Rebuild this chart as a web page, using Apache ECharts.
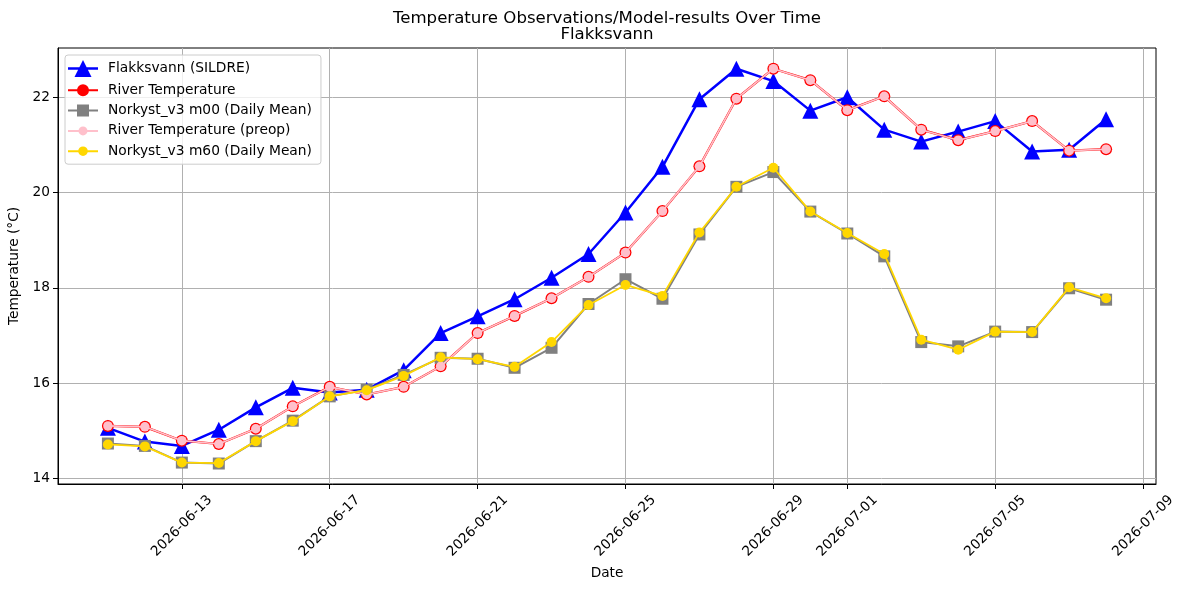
<!DOCTYPE html>
<html>
<head>
<meta charset="utf-8">
<script src="https://cdn.jsdelivr.net/npm/echarts@6/dist/echarts.min.js"></script>
<style>
html,body{margin:0;padding:0;background:#fff;}
#chart{width:1187px;height:590px;}
</style>
</head>
<body>
<div id="chart"></div>
<script>
const dates = ['2026-06-11','2026-06-12','2026-06-13','2026-06-14','2026-06-15','2026-06-16','2026-06-17',
  '2026-06-18','2026-06-19','2026-06-20','2026-06-21','2026-06-22','2026-06-23','2026-06-24',
  '2026-06-25','2026-06-26','2026-06-27','2026-06-28','2026-06-29','2026-06-30','2026-07-01',
  '2026-07-02','2026-07-03','2026-07-04','2026-07-05','2026-07-06','2026-07-07','2026-07-08'];

const sildre = [15.06,14.77,14.68,15.02,15.49,15.9,15.8,15.86,16.27,17.05,17.4,17.76,18.21,18.71,
  19.58,20.54,21.96,22.6,22.34,21.72,22.0,21.32,21.07,21.28,21.5,20.86,20.9,21.54];

const riverTemp = [15.1,15.08,14.79,14.72,15.04,15.51,15.92,15.76,15.92,16.35,17.05,17.41,17.78,18.23,
  18.74,19.61,20.55,21.97,22.6,22.36,21.73,22.02,21.32,21.1,21.29,21.5,20.88,20.91];

const riverPreop = [15.1,15.08,14.79,14.72,15.04,15.51,15.92,15.76,15.92,16.35,17.05,17.41,17.78,18.23,
  18.74,19.61,20.55,21.97,22.6,22.36,21.73,22.02,21.32,21.1,21.29,21.5,20.88,20.91];

const m00 = [14.73,14.68,14.33,14.31,14.78,15.21,15.72,15.86,16.17,16.53,16.51,16.32,16.74,17.66,
  18.18,17.77,19.12,20.12,20.43,19.6,19.14,18.66,16.86,16.77,17.08,17.07,17.99,17.75];

const m60 = [14.71,14.67,14.33,14.32,14.78,15.2,15.72,15.85,16.15,16.54,16.5,16.34,16.86,17.64,
  18.06,17.83,19.16,20.12,20.52,19.6,19.15,18.71,16.91,16.7,17.08,17.07,18.01,17.78];

const xTickDates = ['2026-06-13','2026-06-17','2026-06-21','2026-06-25','2026-06-29','2026-07-01','2026-07-05','2026-07-09'];
const yTicks = [14,16,18,20,22];

const DAY = 86400000;
function utc(s){ const p = s.split('-').map(Number); return Date.UTC(p[0], p[1]-1, p[2]); }
const BASE = utc(dates[0]);
function dayNum(s){ return Math.round((utc(s) - BASE)/DAY); }
function pad(n){ return (n<10?'0':'') + n; }
function fmt(dn){ const d = new Date(BASE + Math.round(dn)*DAY); return d.getUTCFullYear()+'-'+pad(d.getUTCMonth()+1)+'-'+pad(d.getUTCDate()); }
function pairs(vals){ return dates.map((d,i)=>[dayNum(d), vals[i]]); }
const xTickVals = xTickDates.map(dayNum);

// legend icons: line + marker, drawn in a 30x17 box
const ICON_TRI  = 'path://M0,7.25h30v2.5h-30z M15,0L23.5,17L6.5,17z';
const ICON_RED  = 'path://M0,7.5h30v2h-30z M9,8.5a6,6 0 1,1 12,0a6,6 0 1,1 -12,0z';
const ICON_SQ   = 'path://M0,7.5h30v2h-30z M9,2.5h12v12h-12z';
const ICON_PINK = 'path://M0,7.5h30v2h-30z M10.5,8.5a4.5,4.5 0 1,1 9,0a4.5,4.5 0 1,1 -9,0z';
const ICON_GOLD = 'path://M0,7.5h30v2h-30z M10.2,8.5a4.8,4.8 0 1,1 9.6,0a4.8,4.8 0 1,1 -9.6,0z';

const FONT = 'DejaVu Sans';
const chart = echarts.init(document.getElementById('chart'), null, {renderer:'canvas'});

const option = {
  animation: false,
  backgroundColor: '#fff',
  textStyle: {fontFamily: FONT, color:'#000'},
  title: {
    text: 'Temperature Observations/Model-results Over Time\nFlakksvann',
    left: 602, top: 5, textAlign: 'center',
    textStyle: {fontFamily: FONT, fontSize: 16.6, fontWeight: 'normal', color:'#000', lineHeight: 16.5}
  },
  grid: {
    left: 58, top: 48, width: 1098, height: 436,
    show: true, borderColor: '#000', borderWidth: 1, backgroundColor: 'transparent',
    containLabel: false, outerBoundsMode: 'none'
  },
  legend: {
    orient: 'vertical', left: 65, top: 55,
    padding: [5, 9, 6, 3], itemGap: 6.3, itemWidth: 30, itemHeight: 17,
    backgroundColor: 'rgba(255,255,255,0.8)', borderColor: '#cccccc', borderWidth: 1, borderRadius: 3,
    textStyle: {fontFamily: FONT, fontSize: 13.8, color: '#000', padding: [0,0,0,5]},
    data: [
      {name: 'Flakksvann (SILDRE)', icon: ICON_TRI},
      {name: 'River Temperature', icon: ICON_RED},
      {name: 'Norkyst_v3 m00 (Daily Mean)', icon: ICON_SQ},
      {name: 'River Temperature (preop)', icon: ICON_PINK},
      {name: 'Norkyst_v3 m60 (Daily Mean)', icon: ICON_GOLD}
    ]
  },
  xAxis: {
    type: 'value',
    min: -1.35,
    max: (dates.length - 1) + 1.35,
    name: 'Date', nameLocation: 'middle', nameGap: 82,
    nameTextStyle: {fontFamily: FONT, fontSize: 13.7, color: '#000'},
    axisLine: {show: true, onZero: false, lineStyle: {color:'#000', width: 1}},
    axisTick: {show: true, length: 5, lineStyle: {color:'#000'}, customValues: xTickVals},
    axisLabel: {
      show: true, rotate: 45, align: 'center', verticalAlign: 'middle', margin: 42,
      fontFamily: FONT, fontSize: 13.7, color: '#000',
      customValues: xTickVals,
      formatter: function(v){ return fmt(v); }
    },
    splitLine: {show: true, lineStyle: {color: '#b0b0b0', width: 1}}
  },
  yAxis: {
    type: 'value',
    min: 13.88, max: 23.035,
    name: 'Temperature (°C)', nameLocation: 'middle', nameGap: 33, nameRotate: 90,
    nameTextStyle: {fontFamily: FONT, fontSize: 13.7, color: '#000'},
    axisLine: {show: true, onZero: false, lineStyle: {color:'#000', width: 1}},
    axisTick: {show: true, length: 5, lineStyle: {color:'#000'}, customValues: yTicks},
    axisLabel: {show: true, margin: 8, fontFamily: FONT, fontSize: 13.7, color: '#000', customValues: yTicks},
    splitLine: {show: true, lineStyle: {color: '#b0b0b0', width: 1}}
  },
  series: [
    {
      name: 'Flakksvann (SILDRE)', type: 'line', z: 2, data: pairs(sildre),
      symbol: 'triangle', symbolSize: 16, showAllSymbol: true,
      itemStyle: {color: '#0000ff'}, lineStyle: {color: '#0000ff', width: 2.5},
      emphasis: {disabled: true}
    },
    {
      name: 'River Temperature', type: 'line', z: 3, data: pairs(riverTemp),
      symbol: 'circle', symbolSize: 12, showAllSymbol: true,
      itemStyle: {color: '#ff0000'}, lineStyle: {color: '#ff0000', width: 2.2},
      emphasis: {disabled: true}
    },
    {
      name: 'Norkyst_v3 m00 (Daily Mean)', type: 'line', z: 4, data: pairs(m00),
      symbol: 'rect', symbolSize: 12, showAllSymbol: true,
      itemStyle: {color: '#808080'}, lineStyle: {color: '#808080', width: 2},
      emphasis: {disabled: true}
    },
    {
      name: 'River Temperature (preop)', type: 'line', z: 5, data: pairs(riverPreop),
      symbol: 'circle', symbolSize: 9.5, showAllSymbol: true,
      itemStyle: {color: '#ffc0cb'}, lineStyle: {color: '#ffc0cb', width: 1.6},
      emphasis: {disabled: true}
    },
    {
      name: 'Norkyst_v3 m60 (Daily Mean)', type: 'line', z: 6, data: pairs(m60),
      symbol: 'circle', symbolSize: 10, showAllSymbol: true,
      itemStyle: {color: '#ffd700'}, lineStyle: {color: '#ffd700', width: 1.8},
      emphasis: {disabled: true}
    }
  ]
};
chart.setOption(option);
</script>
</body>
</html>
